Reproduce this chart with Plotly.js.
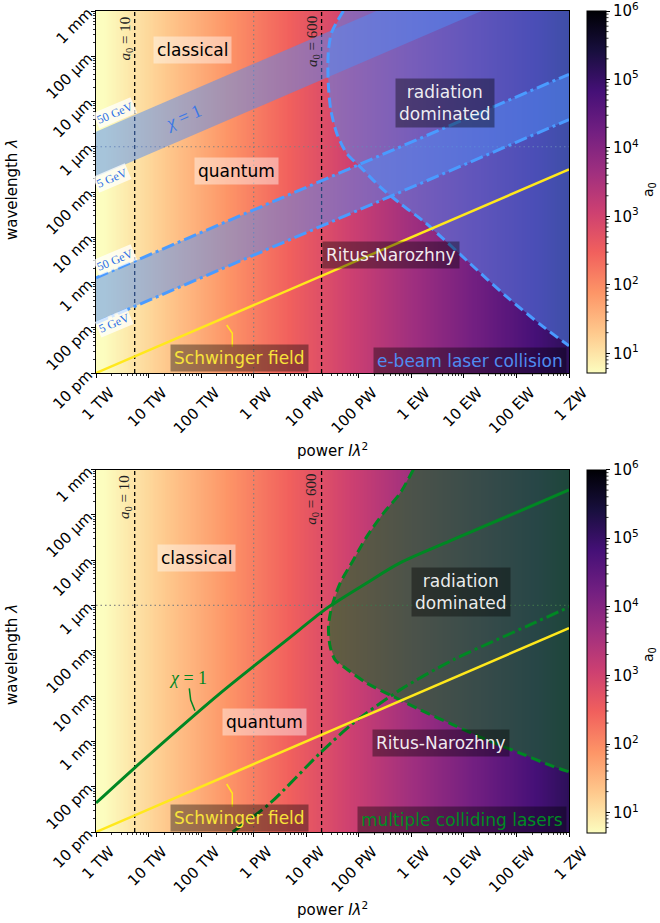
<!DOCTYPE html>
<html><head><meta charset="utf-8">
<script src="https://cdn.plot.ly/plotly-3.0.1.min.js"></script>
<style>body{margin:0;background:#fff}</style>
</head><body><div id="chart" style="width:660px;height:923px"></div>
<script>
// ---------------- data ----------------
const powerTicks = [1e12,1e13,1e14,1e15,1e16,1e17,1e18,1e19,1e20,1e21];
const powerTickText = ['1 TW','10 TW','100 TW','1 PW','10 PW','100 PW','1 EW','10 EW','100 EW','1 ZW'];
const lambdaTicks = [1e-11,1e-10,1e-9,1e-8,1e-7,1e-6,1e-5,1e-4,1e-3];
const lambdaTickText = ['10 pm','100 pm','1 nm','10 nm','100 nm','1 μm','10 μm','100 μm','1 mm'];
const a0Marks = [10, 600];
const a0MarkPower = [5.45e12, 1.96e16];
const refPower = 1e15;      // dotted vertical
const refLambda = 1e-6;     // dotted horizontal
const powerEnds = [1e12, 1e21];
const schwingerLambda = [1.0e-11, 3.16e-7];
const cbTickVals = [1,2,3,4,5,5.9999];
const cbTickText = ['10<sup>1</sup>','10<sup>2</sup>','10<sup>3</sup>','10<sup>4</sup>','10<sup>5</sup>','10<sup>6</sup>'];
const cbRange = [0.712, 6];

// e-beam laser collision
const chi50GeV = [2.15e-6, 6.8e-2];
const chi5GeV  = [2.15e-7, 6.8e-3];
const rad50GeV = [1.27e-9, 4.0e-5];
const rad5GeV  = [1.27e-10, 4.0e-6];
const ebeamRDPower  = [5.09e16,3.07e16,2.65e16,2.58e16,2.65e16,2.94e16,3.82e16,5.92e16,1.06e17,2.54e17,6.10e17,1.46e18,2.26e18,1.30e19,6.49e19,3.21e20,1e21];
const ebeamRDLambda = [1e-3,3.44e-4,1.36e-4,5.81e-5,2.10e-5,6.43e-6,1.97e-6,7.11e-7,3.60e-7,1.30e-7,5.60e-8,2.61e-8,1.71e-8,2.65e-9,4.86e-10,1.06e-10,3.98e-11];

// multiple colliding lasers
const lasChiPower  = [1e12,5.38e12,2.32e14,4.29e15,1.85e16,3.07e16,1.42e17,6.10e17,5.43e18,1e21];
const lasChiLambda = [4.36e-11,2.58e-10,1.16e-8,1.74e-7,6.75e-7,1.03e-6,3.14e-6,8.67e-6,2.65e-5,3.53e-4];
const lasRadPower  = [3.98e14,2.07e15,1.84e16,7.89e16,6.10e17,6.27e18,4.19e19,1.79e20,1e21];
const lasRadLambda = [1e-11,4.36e-11,5.52e-10,2.53e-9,1.37e-8,6.30e-8,1.74e-7,3.72e-7,9.23e-7];
const lasRDPower  = [1.09e18,6.10e17,2.93e17,1.42e17,7.89e16,4.42e16,3.07e16,2.65e16,2.85e16,3.55e16,5.09e16,1.42e17,4.54e17,1.46e18,6.27e18,2.70e19,1.16e20,4.98e20,1e21];
const lasRDLambda = [1e-3,2.99e-4,1.08e-4,3.30e-5,1.01e-5,3.10e-6,9.44e-7,3.42e-7,1.24e-7,6.30e-8,4.49e-8,1.93e-8,9.77e-9,4.98e-9,2.32e-9,1.08e-9,5.52e-10,2.80e-10,2.14e-10];

// ---------------- styling ----------------
const magmaR = [[0,'#FCFDBF'],[1/9,'#FEC98D'],[2/9,'#FD9567'],[3/9,'#F1605D'],[4/9,'#CD4071'],[5/9,'#9F2F7F'],[6/9,'#721F81'],[7/9,'#451077'],[8/9,'#180F3E'],[1,'#000004']];
const BLUE = '#4a9bff', BLUEFILL = 'rgba(80,140,245,0.5)';
const GREEN = 'rgb(0,135,35)', GREENFILL = 'rgba(20,106,39,0.6)';
const YELLOW = '#ffe81c';
const SANS = 'DejaVu Sans', SERIF = 'Liberation Serif';

const L = 96, R = 91, T = 11, B = 91, W = 660, H = 923;
const PW = W - L - R, PH = H - T - B;
const px = x => (x - L) / PW;
const py = y => (H - B - y) / PH;
const topDom = [py(373), 1], botDom = [0, py(469.5)];

// background a0 field (a0 grows as sqrt of power, anchored on the a0 marks)
const hx = [], hy = [];
for (let i = 0; i <= 360; i++) hx.push(Math.pow(10, 12 + 9 * i / 360));
for (let e = -11.5; e <= -2.4; e += 0.25) hy.push(Math.pow(10, e));
const zRow = hx.map(P => Math.log10(a0Marks[0] * Math.sqrt(P / a0MarkPower[0])));
const hz = hy.map(() => zRow);

function heat(ax, dom) {
  return {type:'heatmap', x:hx, y:hy, z:hz, zmin:cbRange[0], zmax:cbRange[1], colorscale:magmaR,
    xaxis:ax[0], yaxis:ax[1], hoverinfo:'skip',
    colorbar:{x:px(587), xanchor:'left', thickness:19, thicknessmode:'pixels',
      len:dom[1]-dom[0], lenmode:'fraction', y:dom[1], yanchor:'top', ypad:0, xpad:0,
      outlinewidth:1, outlinecolor:'black', tickvals:cbTickVals, ticktext:cbTickText,
      ticks:'outside', ticklen:4, tickwidth:1, tickcolor:'black', ticklabeloverflow:'allow',
      tickfont:{family:SANS, size:15, color:'black'}}};
}
function ln(x, y, color, width, dash, ax, extra) {
  return Object.assign({type:'scatter', mode:'lines', x, y, line:{color, width, dash},
    xaxis:ax[0], yaxis:ax[1], hoverinfo:'skip', showlegend:false}, extra || {});
}
function refLines(ax) {
  const out = [];
  out.push(ln([refPower, refPower], [1e-11, 1e-3], 'rgba(128,128,128,0.9)', 1.2, '1.5px,3px', ax));
  out.push(ln(powerEnds, [refLambda, refLambda], 'rgba(128,128,128,0.9)', 1.2, '1.5px,3px', ax));
  a0MarkPower.forEach(p => out.push(ln([p, p], [1e-11, 1e-3], 'black', 1.3, '4px,3px', ax)));
  return out;
}

const A1 = ['x','y'], A2 = ['x2','y2'];
const traces = [];
// ---- top ----
traces.push(heat(A1, topDom));
traces.push(...refLines(A1));
traces.push(ln(powerEnds, chi5GeV, 'rgba(0,0,0,0)', 0, 'solid', A1));
traces.push(ln(powerEnds, chi50GeV, 'rgba(0,0,0,0)', 0, 'solid', A1, {fill:'tonexty', fillcolor:BLUEFILL}));
traces.push(ln(powerEnds, rad5GeV, 'rgba(0,0,0,0)', 0, 'solid', A1));
traces.push(ln(powerEnds, rad50GeV, 'rgba(0,0,0,0)', 0, 'solid', A1, {fill:'tonexty', fillcolor:BLUEFILL}));
traces.push(ln(ebeamRDPower.concat([1e21]), ebeamRDLambda.concat([1e-3]), 'rgba(0,0,0,0)', 0, 'solid', A1, {fill:'toself', fillcolor:BLUEFILL}));
traces.push(ln(powerEnds, rad5GeV, BLUE, 3, '13px,4px,3px,4px', A1));
traces.push(ln(powerEnds, rad50GeV, BLUE, 3, '13px,4px,3px,4px', A1));
traces.push(ln(ebeamRDPower, ebeamRDLambda, BLUE, 3, '10px,5px', A1, {line:{color:BLUE, width:3, dash:'10px,5px', shape:'spline', smoothing:0.8}}));
traces.push(ln(powerEnds, schwingerLambda, YELLOW, 2.5, 'solid', A1));
// ---- bottom ----
traces.push(heat(A2, botDom));
traces.push(...refLines(A2));
traces.push(ln(lasRDPower.concat([1e21]), lasRDLambda.concat([1e-3]), 'rgba(0,0,0,0)', 0, 'solid', A2, {fill:'toself', fillcolor:GREENFILL}));
traces.push(ln(lasChiPower, lasChiLambda, GREEN, 3, 'solid', A2, {line:{color:GREEN, width:3, shape:'spline', smoothing:0.8}}));
traces.push(ln(lasRadPower, lasRadLambda, GREEN, 3, '13px,4px,3px,4px', A2, {line:{color:GREEN, width:3, dash:'13px,4px,3px,4px', shape:'spline', smoothing:0.8}}));
traces.push(ln(lasRDPower, lasRDLambda, GREEN, 3, '10px,5px', A2, {line:{color:GREEN, width:3, dash:'10px,5px', shape:'spline', smoothing:0.8}}));
traces.push(ln(powerEnds, schwingerLambda, YELLOW, 2.5, 'solid', A2));

// ---------------- axes ----------------
const minorX = [], minorY = [];
for (let e = 12; e < 21; e++) for (let k = 2; k <= 9; k++) minorX.push(k * Math.pow(10, e));
for (let e = -11; e < -3; e++) for (let k = 2; k <= 9; k++) minorY.push(k * Math.pow(10, e));
function xax(anchor) {
  return {type:'log', range:[12,21], domain:[0,1], anchor, tickvals:powerTicks, ticktext:powerTickText,
    tickangle:-45, ticks:'outside', ticklen:4, tickwidth:1, tickcolor:'black',
    showline:true, mirror:true, linecolor:'black', linewidth:1, showgrid:false, zeroline:false,
    tickfont:{family:SANS, size:15, color:'black'}, ticklabelshift:14,
    minor:{tickvals:minorX, ticks:'outside', ticklen:2, tickwidth:0.8, tickcolor:'black', showgrid:false}};
}
function yax(anchor, dom) {
  return {type:'log', range:[-11,-3], domain:dom, anchor, tickvals:lambdaTicks, ticktext:lambdaTickText,
    tickangle:-45, ticks:'outside', ticklen:4, tickwidth:1, tickcolor:'black',
    showline:true, mirror:true, linecolor:'black', linewidth:1, showgrid:false, zeroline:false,
    tickfont:{family:SANS, size:15, color:'black'},
    minor:{tickvals:minorY, ticks:'outside', ticklen:2, tickwidth:0.8, tickcolor:'black', showgrid:false}};
}

// ---------------- annotations ----------------
function ann(text, x, y, o) {
  return Object.assign({text, x:px(x), y:py(y), xref:'paper', yref:'paper', showarrow:false,
    xanchor:'center', yanchor:'middle',
    font:{family:SANS, size:17, color:'black'}}, o || {});
}
const light = {bgcolor:'rgba(255,255,255,0.42)', borderpad:3};
const dark = c => ({bgcolor:'rgba(0,0,0,0.38)', borderpad:3, font:{family:SANS, size:17, color:c}});
const WHITE = 'rgba(255,255,255,0.92)';
const gev = {textangle:-23, bgcolor:'rgba(255,255,255,0.75)', borderpad:1, font:{family:SERIF, size:12, color:'#2a6ee6'}};
const a0f = {textangle:-90, font:{family:SERIF, size:15, color:'#222'}};
const axf = {font:{family:SANS, size:15, color:'black'}};
const cbt = {textangle:-90, font:{family:SANS, size:14, color:'black'}};
const annotations = [
  // top
  ann('classical', 192.5, 50, light),
  ann('quantum', 236, 171, light),
  ann('radiation<br>dominated', 444.7, 103.3, dark(WHITE)),
  ann('Ritus-Narozhny', 390.5, 255.5, dark(WHITE)),
  ann('Schwinger field', 239.5, 358, dark('#f7e23a')),
  ann('e-beam laser collision', 567, 360.7, Object.assign(dark('#4f8cf0'), {xanchor:'right'})),
  ann('<i>a</i><sub>0</sub> = 10', 125.5, 39, a0f),
  ann('<i>a</i><sub>0</sub> = 600', 312.5, 41.5, a0f),
  ann('<i>χ</i> = 1', 183, 117, {textangle:-23, font:{family:SERIF, size:18, color:'#3c78e6'}}),
  ann('50 GeV', 115, 113, gev),
  ann('5 GeV', 112, 178, gev),
  ann('50 GeV', 115, 260, gev),
  ann('5 GeV', 114, 322.5, gev),
  ann('power <i>Iλ</i><sup>2</sup>', 332, 450, axf),
  ann('wavelength <i>λ</i>', 12, 190, Object.assign({textangle:-90}, axf)),
  ann('a<sub>0</sub>', 649, 190, cbt),
  // bottom
  ann('classical', 196, 558, light),
  ann('quantum', 264, 721.7, light),
  ann('radiation<br>dominated', 461.3, 591.7, dark(WHITE)),
  ann('Ritus-Narozhny', 440.7, 743, dark(WHITE)),
  ann('Schwinger field', 239.5, 817.5, dark('#f7e23a')),
  ann('multiple colliding lasers', 567, 820.3, Object.assign(dark('rgb(0,140,35)'), {xanchor:'right'})),
  ann('<i>a</i><sub>0</sub> = 10', 125, 497, a0f),
  ann('<i>a</i><sub>0</sub> = 600', 311.7, 499, a0f),
  ann('<i>χ</i> = 1', 188.3, 678.3, {font:{family:SERIF, size:18, color:'rgb(0,135,35)'}}),
  ann('power <i>Iλ</i><sup>2</sup>', 332, 909, axf),
  ann('wavelength <i>λ</i>', 12, 655, Object.assign({textangle:-90}, axf)),
  ann('a<sub>0</sub>', 649, 655, cbt)
];

// ---------------- shapes: label brackets, colorbar minor ticks ----------------
const path = pts => 'M ' + pts.map(p => px(p[0]) + ',' + py(p[1])).join(' L ');
const shapes = [
  {type:'path', xref:'paper', yref:'paper', path:path([[226.7,325],[232.3,333.3],[232.3,346.7]]), line:{color:YELLOW, width:1.5}},
  {type:'path', xref:'paper', yref:'paper', path:path([[226.7,784],[232.3,793.3],[232.3,806.7]]), line:{color:YELLOW, width:1.5}},
  {type:'path', xref:'paper', yref:'paper', path:path([[189.3,688.3],[190.7,700],[195,710.7]]), line:{color:GREEN, width:1.5}}
];
[topDom, botDom].forEach(dom => {
  for (let n = 0; n < 6; n++) for (let k = 2; k <= 9; k++) {
    const v = n + Math.log10(k);
    if (v < cbRange[0] || v > cbRange[1]) continue;
    const yp = dom[0] + (v - cbRange[0]) / (cbRange[1] - cbRange[0]) * (dom[1] - dom[0]);
    shapes.push({type:'line', xref:'paper', yref:'paper', x0:px(606), x1:px(608.5), y0:yp, y1:yp, line:{color:'black', width:0.8}});
  }
});

const layout = {
  width:W, height:H, margin:{l:L, r:R, t:T, b:B},
  paper_bgcolor:'white', plot_bgcolor:'white', showlegend:false,
  font:{family:SANS, size:15, color:'black'},
  xaxis:xax('y'), yaxis:yax('x', topDom),
  xaxis2:xax('y2'), yaxis2:yax('x2', botDom),
  annotations, shapes
};
Plotly.newPlot('chart', traces, layout, {staticPlot:true, displayModeBar:false});
</script></body></html>
